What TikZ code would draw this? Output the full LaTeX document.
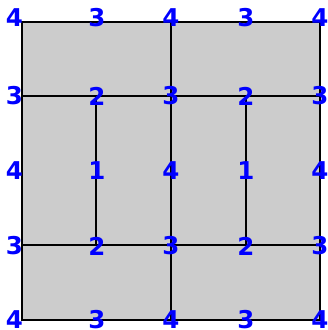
\documentclass[tikz,border=0pt]{standalone}
\usepackage{fontspec}
\setmainfont{DejaVu Sans}
\definecolor{CellGray}{RGB}{204,204,204}
\definecolor{NumBlue}{RGB}{0,0,255}
\tikzset{
	wall/.style={draw=black,line width=1.6pt},
	num/.style={text=NumBlue,font=\fontsize{24.5}{24.5}\selectfont\bfseries,inner sep=0pt},
}

\begin{document}
\begin{tikzpicture}[x=1pt,y=1pt]
	\useasboundingbox (0,0) rectangle (328,330);
	% outer square
	\coordinate (tl) at (22,308);
	\coordinate (tr) at (320,308);
	\coordinate (bl) at (22,10);
	\coordinate (br) at (320,10);
	% inner grid points
	\coordinate (tm) at (171,308);
	\coordinate (bm) at (171,10);
	\coordinate (ul) at (22,234);
	\coordinate (ur) at (320,234);
	\coordinate (ll) at (22,85);
	\coordinate (lr) at (320,85);
	\coordinate (p1) at (96,234);
	\coordinate (p2) at (96,85);
	\coordinate (q1) at (246,234);
	\coordinate (q2) at (246,85);
	\fill[CellGray] (bl) rectangle (tr);
	\draw[wall] (tl)--(tr)--(br)--(bl)--cycle;
	\draw[wall] (tm)--(bm);
	\draw[wall] (ul)--(ur);
	\draw[wall] (ll)--(lr);
	\draw[wall] (p1)--(p2);
	\draw[wall] (q1)--(q2);
	% numbers
	\foreach \r/\y/\a/\b in {0/312/4/3,1/234/3/2,2/159/4/1,3/84/3/2,4/10/4/3}{
		\foreach \c/\x/\v in {0/14.5/\a,1/97/\b,2/171/\a,3/246/\b,4/320/\a}{
			\node[num] (n\r\c) at (\x,\y) {\v};
		}
	}
\end{tikzpicture}
\end{document}
